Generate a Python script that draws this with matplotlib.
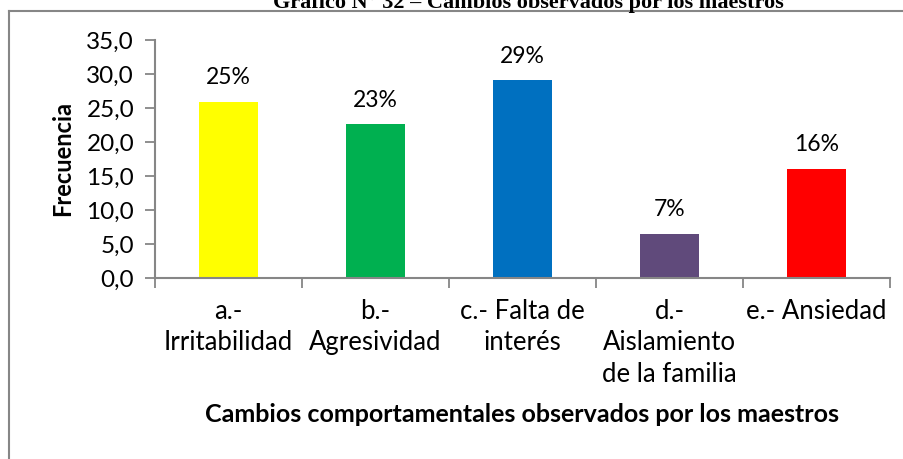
import matplotlib
matplotlib.use('Agg')
import matplotlib.pyplot as plt
from matplotlib.lines import Line2D

categorias = ['a.-\nIrritabilidad', 'b.-\nAgresividad', 'c.- Falta de\ninterés',
              'd.-\nAislamiento\nde la familia', 'e.- Ansiedad']
frecuencia = [25.9, 22.6, 29.1, 6.5, 16.1]
etiquetas = ['25%', '23%', '29%', '7%', '16%']
colores = ['#FFFF00', '#00B050', '#0070C0', '#604A7B', '#FF0000']
yticks = [0, 5, 10, 15, 20, 25, 30, 35]

W, H = 904, 459
fig = plt.figure(figsize=(W / 100, H / 100), dpi=100)
ax = fig.add_axes([155 / W, 1 - 278 / H, 735 / W, 238 / H])

gris = '#868686'
x = range(len(categorias))
ax.bar(x, frecuencia, width=0.4, color=colores)
for i, (v, t) in enumerate(zip(frecuencia, etiquetas)):
    ax.text(i, v + 2.0, t, ha='center', va='bottom', fontsize=16.5, family='Lato')

ax.set_xlim(-0.5, 4.5)
ax.set_ylim(0, 35)
ax.set_yticks(yticks)
ax.set_yticklabels([f'{v:.1f}'.replace('.', ',') for v in yticks], fontsize=17.5, family='Lato')
ax.set_xticks([i - 0.5 for i in range(6)])
ax.set_xticklabels([])
ax.set_xticks(list(x), minor=True)
ax.set_xticklabels(categorias, minor=True, fontsize=18.5, family='Lato', linespacing=1.32)
ax.tick_params(axis='x', which='minor', length=0, pad=15)
ax.tick_params(axis='x', which='major', length=7, color=gris, width=1.3)
ax.tick_params(axis='y', length=7, color=gris, width=1.3, pad=8)

for s in ['top', 'right']:
    ax.spines[s].set_visible(False)
for s in ['left', 'bottom']:
    ax.spines[s].set_color(gris)
    ax.spines[s].set_linewidth(1.5)

ax.set_ylabel('Frecuencia', fontsize=17, fontweight='bold', family='Lato')
ax.yaxis.set_label_coords((74 - 155) / 735, 0.5)
fig.text((155 + 890) / 2 / W, 1 - 415 / H,
         'Cambios comportamentales observados por los maestros',
         ha='center', va='center', fontsize=18, fontweight='bold', family='Lato')

fig.text(528 / W, 1 - 8 / H, 'Gráfico N° 32 – Cambios observados por los maestros',
         ha='center', va='baseline', fontsize=16, fontweight='bold', family='Liberation Serif')

fig.add_artist(Line2D([9 / W, 1], [1 - 11 / H, 1 - 11 / H], color=gris, lw=1.5))
fig.add_artist(Line2D([9 / W, 9 / W], [0, 1 - 11 / H], color=gris, lw=1.5))

fig.savefig('out.png', dpi=100)
